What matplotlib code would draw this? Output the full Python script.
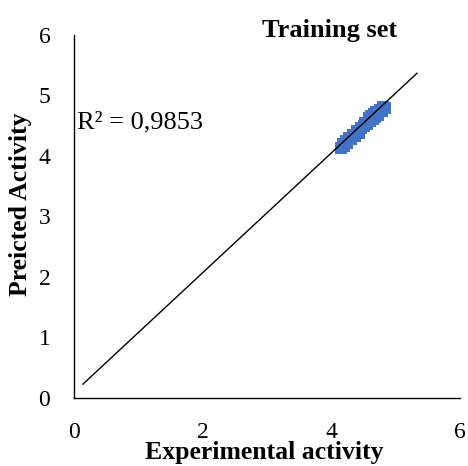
import matplotlib
matplotlib.use("Agg")
import matplotlib.pyplot as plt
import numpy as np

plt.rcParams['font.family'] = ['Liberation Serif', 'DejaVu Serif']

exp_act = [4.15, 4.18, 4.20, 4.22, 4.25, 4.27, 4.30, 4.33, 4.36, 4.40, 4.43, 4.46,
           4.50, 4.53, 4.56, 4.58, 4.60, 4.62, 4.64, 4.66, 4.68, 4.70, 4.72, 4.75,
           4.78, 4.80, 4.83]
pred_act = [4.13, 4.20, 4.17, 4.24, 4.22, 4.29, 4.28, 4.35, 4.33, 4.41, 4.38, 4.47,
            4.49, 4.55, 4.52, 4.62, 4.58, 4.66, 4.61, 4.70, 4.65, 4.72, 4.68, 4.76,
            4.74, 4.81, 4.80]
r2_text = "R² = 0,9853"
trend_x = [0.14, 5.33]
slope, intercept = 0.99, 0.09

fig = plt.figure(figsize=(4.68, 4.66), dpi=100)
ax = fig.add_axes([0.158, 0.146, 0.825, 0.779])
ax.scatter(exp_act, pred_act, marker='s', s=75, color='#4472C4', zorder=2, linewidths=0)
tx = np.array(trend_x)
ax.plot(tx, slope * tx + intercept, color='black', lw=1, zorder=3)

ax.set_xlim(0, 6)
ax.set_ylim(0, 6)
ax.set_xticks([0, 2, 4, 6])
ax.set_yticks([0, 1, 2, 3, 4, 5, 6])
ax.tick_params(length=0, labelsize=17)
ax.tick_params(axis='x', pad=17)
ax.tick_params(axis='y', pad=17)
for s in ['top', 'right']:
    ax.spines[s].set_visible(False)
ax.spines['left'].set_linewidth(1)
ax.spines['bottom'].set_linewidth(1)

ax.text(0.05, 4.56, r2_text, fontsize=19, ha='left', va='center')
fig.text(0.705, 0.935, 'Training set', fontsize=19, fontweight='bold', ha='center', va='center')
fig.text(0.565, 0.028, 'Experimental activity', fontsize=18.5, fontweight='bold', ha='center', va='center')
fig.text(0.043, 0.562, 'Preicted Activity', fontsize=18.5, fontweight='bold', ha='center', va='center', rotation=90)

fig.savefig('out.png', dpi=100)
